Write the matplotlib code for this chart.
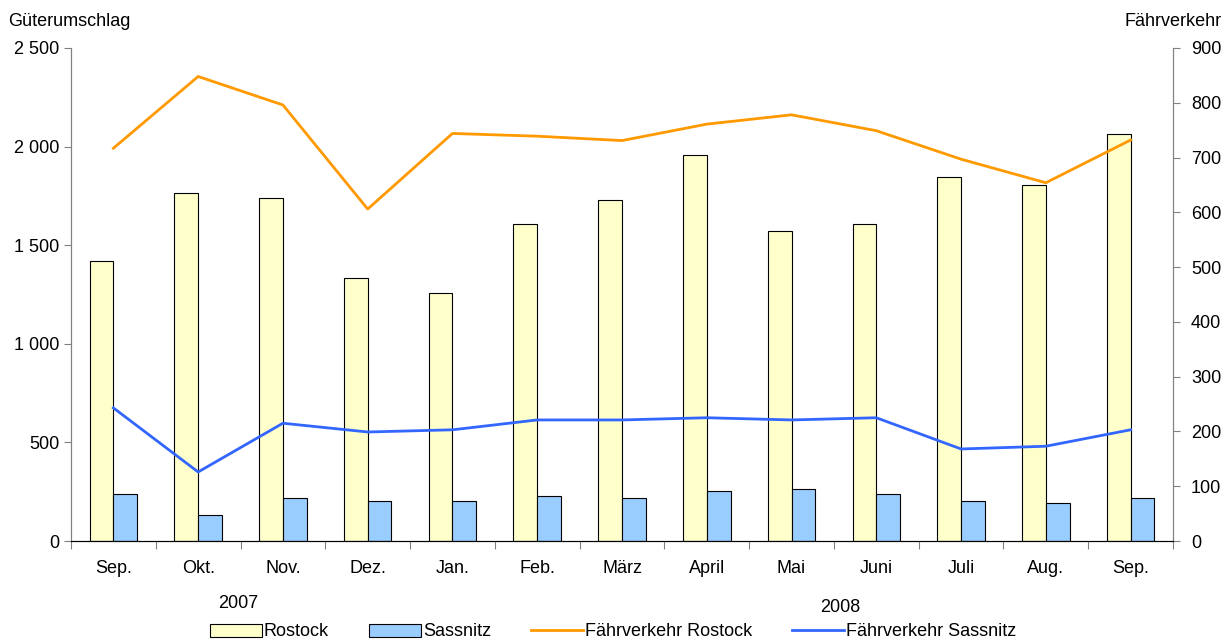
import numpy as np
import matplotlib.pyplot as plt
from matplotlib.ticker import FuncFormatter

plt.rcParams['font.family'] = ['Liberation Sans', 'DejaVu Sans']

# monthly values, Sep 2007 .. Sep 2008
months = ['Sep.', 'Okt.', 'Nov.', 'Dez.', 'Jan.', 'Feb.', 'März', 'April',
          'Mai', 'Juni', 'Juli', 'Aug.', 'Sep.']
rostock = [1420, 1765, 1740, 1335, 1260, 1607, 1730, 1958, 1572, 1607, 1848, 1803, 2065]
sassnitz = [238, 132, 218, 203, 203, 228, 218, 254, 264, 238, 203, 193, 218]
faehre_rostock = [717, 848, 796, 606, 744, 739, 731, 761, 778, 749, 697, 654, 732]
faehre_sassnitz = [243, 126, 215, 199, 203, 221, 221, 225, 221, 225, 168, 173, 203]

fs = 13

fig = plt.figure(figsize=(12.31, 6.41), dpi=100)
ax = fig.add_axes([71 / 1231, 100 / 641, 1102 / 1231, 493 / 641])
ax2 = ax.twinx()

x = np.arange(len(months))
w = 0.28
ax.bar(x - w / 2, rostock, w, color='#FFFFCC', edgecolor='black', linewidth=0.8, label='Rostock')
ax.bar(x + w / 2, sassnitz, w, color='#99CCFF', edgecolor='black', linewidth=0.8, label='Sassnitz')
ax2.plot(x, faehre_rostock, color='#FF9900', lw=2, label='Fährverkehr Rostock')
ax2.plot(x, faehre_sassnitz, color='#3366FF', lw=2, label='Fährverkehr Sassnitz')

ax.set_xlim(-0.5, len(months) - 0.5)
ax.set_ylim(0, 2500)
ax2.set_ylim(0, 900)
ax.set_yticks(np.arange(0, 2501, 500))
ax2.set_yticks(np.arange(0, 901, 100))
ax.yaxis.set_major_formatter(FuncFormatter(lambda v, p: f'{int(v):,}'.replace(',', ' ')))

# ticks between the months, labels centred under them
ax.set_xticks(np.arange(-0.5, len(months)), minor=False)
ax.set_xticklabels([])
ax.set_xticks(x, minor=True)
ax.set_xticklabels(months, minor=True)
ax.tick_params(axis='x', which='major', length=6, color='#808080')
ax.tick_params(axis='x', which='minor', length=0, pad=14, labelsize=fs)
ax.tick_params(axis='y', length=5, color='#808080', labelsize=fs)
ax2.tick_params(axis='y', length=5, color='#808080', labelsize=fs, pad=8)

for a in (ax, ax2):
    a.spines['top'].set_visible(False)
    a.spines['left'].set_color('#808080')
    a.spines['right'].set_color('#808080')
    a.spines['bottom'].set_color('black')

fig.text(8 / 1231, 1 - 22 / 641, 'Güterumschlag', fontsize=fs, va='center', ha='left')
fig.text(1222 / 1231, 1 - 22 / 641, 'Fährverkehr', fontsize=fs, va='center', ha='right')
fig.text(238 / 1231, 1 - 603 / 641, '2007', fontsize=fs, va='center', ha='center')
fig.text(840 / 1231, 1 - 607 / 641, '2008', fontsize=fs, va='center', ha='center')

h1, l1 = ax.get_legend_handles_labels()
h2, l2 = ax2.get_legend_handles_labels()
fig.legend(h1 + h2, l1 + l2, loc='center', bbox_to_anchor=(613 / 1231, 1 - 632 / 641),
           ncol=4, frameon=False, fontsize=fs, handlelength=2.9, handletextpad=0.1,
           columnspacing=2.2, handleheight=0.7)

fig.savefig('out.png', dpi=100)
